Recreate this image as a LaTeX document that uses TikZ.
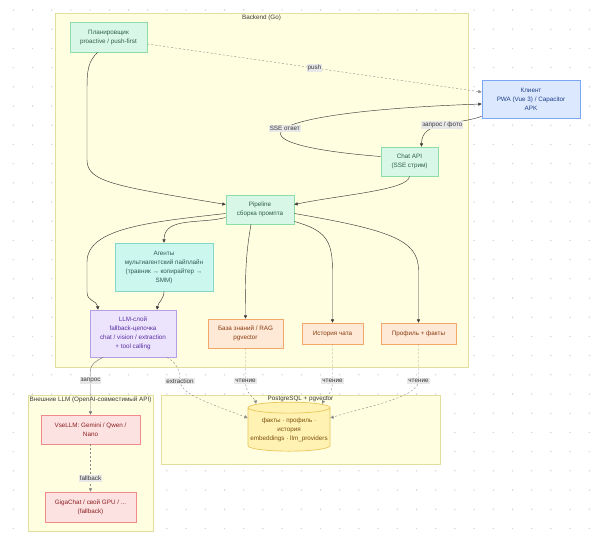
\documentclass[tikz,border=0pt]{standalone}
\usepackage{fontspec}
\setmainfont{Liberation Sans}
\usetikzlibrary{arrows.meta,shapes.geometric}
\definecolor{dotgray}{HTML}{D4D4D4}
\definecolor{clusfill}{HTML}{FFFEE0}
\definecolor{clusline}{HTML}{E2DE9C}
\definecolor{grnfill}{HTML}{D8F7E7}
\definecolor{grnline}{HTML}{8DDCA9}
\definecolor{grntext}{HTML}{2F5E44}
\definecolor{cyanfill}{HTML}{CCF7EF}
\definecolor{cyanline}{HTML}{84D6C9}
\definecolor{cyantext}{HTML}{2E5853}
\definecolor{bluefill}{HTML}{DCE8FD}
\definecolor{blueline}{HTML}{7BA6F5}
\definecolor{bluetext}{HTML}{1F3F8A}
\definecolor{purpfill}{HTML}{ECE4FD}
\definecolor{purpline}{HTML}{B49EE8}
\definecolor{purptext}{HTML}{5A2EA0}
\definecolor{orfill}{HTML}{FDE9D6}
\definecolor{orline}{HTML}{F3A76B}
\definecolor{ortext}{HTML}{8A3B12}
\definecolor{pinkfill}{HTML}{FDE2E2}
\definecolor{pinkline}{HTML}{F08A8A}
\definecolor{pinktext}{HTML}{8B1E1E}
\definecolor{dbfill}{HTML}{FFF2B3}
\definecolor{dbline}{HTML}{E8C65A}
\definecolor{dbtext}{HTML}{7A4F0F}
\definecolor{edgegray}{HTML}{3A3A3A}
\definecolor{dashgray}{HTML}{8A8A8A}
\definecolor{lblgray}{HTML}{E8E8E8}

\begin{document}
\begin{tikzpicture}[x=1pt, y=-1pt, >={Triangle[length=3.3pt,width=3.2pt]},
  font=\fontsize{6.3}{9}\selectfont,
  box/.style={draw, line width=0.7pt, align=center, inner sep=2pt},
  gnode/.style={box, fill=grnfill, draw=grnline, text=grntext},
  cnode/.style={box, fill=cyanfill, draw=cyanline, text=cyantext},
  bnode/.style={box, fill=bluefill, draw=blueline, text=bluetext},
  pnode/.style={box, fill=purpfill, draw=purpline, text=purptext},
  onode/.style={box, fill=orfill, draw=orline, text=ortext},
  rnode/.style={box, fill=pinkfill, draw=pinkline, text=pinktext},
  cluster/.style={fill=clusfill, draw=clusline, line width=0.6pt},
  clabel/.style={text=edgegray},
  flow/.style={->, draw=edgegray, line width=0.45pt},
  soft/.style={->, draw=dashgray, dash pattern=on 2pt off 2pt, line width=0.4pt},
  lbl/.style={fill=lblgray, text=edgegray, inner sep=1pt}]
  \useasboundingbox (0,0) rectangle (600,544);
  \fill[white] (0,0) rectangle (600,544);
  % dotted canvas
  \foreach \i in {0,...,30}
    \foreach \j in {0,...,27}
      \fill[dotgray] (13.3+19.2*\i,10+19.2*\j) circle (0.8pt);

  % groups
  \draw[cluster] (55,13) rectangle (468,367);
  \draw[cluster] (28,395) rectangle (153,531);
  \draw[cluster] (161,395) rectangle (440,464);
  \node[clabel] (tback) at (261.5,18) {Backend (Go)};
  \node[clabel] (text) at (90.5,400) {Внешние LLM (OpenAI-совместимый API)};
  \node[clabel] (tpg) at (300.5,399) {PostgreSQL + pgvector};

  % nodes
  \node[gnode, minimum width=77pt, minimum height=30pt] (sched) at (108.5,37) {Планировщик\\proactive / push-first};
  \node[bnode, minimum width=98pt, minimum height=38pt] (client) at (531,99) {Клиент\\PWA (Vue 3) / Capacitor\\APK};
  \node[gnode, minimum width=57pt, minimum height=29pt] (chatapi) at (409.5,161.5) {Chat API\\(SSE стрим)};
  \node[gnode, minimum width=68pt, minimum height=29pt] (pipe) at (260,209.5) {Pipeline\\сборка промпта};
  \node[cnode, minimum width=98pt, minimum height=48pt] (agents) at (164,267) {Агенты\\мультиагентский пайплайн\\(травник → копирайтер →\\SMM)};
  \node[pnode, minimum width=86pt, minimum height=47pt] (llm) at (133,333.5) {LLM-слой\\fallback-цепочка\\chat / vision / extraction\\+ tool calling};
  \node[onode, minimum width=75pt, minimum height=29pt] (kb) at (245.5,333.5) {База знаний / RAG\\pgvector};
  \node[onode, minimum width=61pt, minimum height=21pt] (hist) at (332.5,333.5) {История чата};
  \node[onode, minimum width=75pt, minimum height=21pt] (prof) at (418.5,333.5) {Профиль + факты};
  \node[rnode, minimum width=99pt, minimum height=29pt] (vse) at (90.5,429.5) {VseLLM: Gemini / Qwen /\\Nano};
  \node[rnode, minimum width=91pt, minimum height=30pt] (giga) at (90.5,507) {GigaChat / свой GPU / ...\\(fallback)};
  \node[cylinder, shape border rotate=90, aspect=0.14, draw=dbline, fill=dbfill, text=dbtext,
        line width=0.7pt, align=center, minimum width=82pt, minimum height=49pt, inner sep=0.5pt]
        (db) at (289,430) {факты · профиль ·\\история\\embeddings · llm\_providers};

  % connectors
  \draw[soft] ([yshift=-7pt]sched.east) -- node[lbl] (lpush) {push} ([yshift=7pt]client.west);
  \draw[flow] ([yshift=5pt]chatapi.west) .. controls (222,144) and (250,112) .. node[lbl, pos=0.5] (lsse) {SSE ответ} ([yshift=-5pt]client.west);
  \draw[flow] ([yshift=2pt]client.south west) to[out=-160,in=90] node[lbl] (lask) {запрос / фото} ([xshift=12pt]chatapi.north);
  \draw[flow] ([xshift=-11pt]sched.south) .. controls (88,62) and (87,70) .. (87,90) -- (87,160)
    .. controls (87,182) and (115,186) .. ([yshift=5pt]pipe.west);
  \draw[flow] (chatapi.south) .. controls (409,190) and (340,195) .. ([yshift=5pt]pipe.east);
  \draw[flow] ([yshift=-8pt]pipe.west) to[out=-165,in=90] (agents.north);
  \draw[flow] ([yshift=-4pt]pipe.west) .. controls (150,222) and (87,228) .. (87,262) -- (87,292)
    .. controls (87,302) and (97,300) .. ([xshift=-35pt]llm.north);
  \draw[flow] (agents.south) to[out=-90,in=80] ([xshift=24pt]llm.north);
  \draw[flow] ([xshift=-9pt]pipe.south) to[out=-100,in=90] (kb.north);
  \draw[flow] ([yshift=-12pt]pipe.east) .. controls (325,230) and (332.5,240) .. (332.5,270) -- (hist.north);
  \draw[flow] ([yshift=-4pt]pipe.east) .. controls (390,230) and (418.5,240) .. (418.5,270) -- (prof.north);
  \draw[flow, draw=dashgray!85!black] ([xshift=-30pt]llm.south) .. controls (96,361) and (90,364) .. (90.5,372)
    -- node[lbl, pos=0.2] (lreq) {запрос} (vse.north);
  \draw[soft] ([xshift=34pt]llm.south) .. controls (178,364) and (180,372) .. (180,381)
    node[lbl] (lext) {extraction} .. controls (180,395) and (215,405) .. ([yshift=12pt]db.west);
  \draw[soft] (kb.south) -- (245.5,381) node[lbl] (lrd1) {чтение}
    .. controls (245.5,395) and (255,398) .. ([xshift=-33pt,yshift=-2pt]db.north);
  \draw[soft] (hist.south) -- (332.5,381) node[lbl] (lrd2) {чтение}
    .. controls (332.5,395) and (325,398) .. ([xshift=33pt,yshift=-2pt]db.north);
  \draw[soft] (prof.south) -- (418.5,381) node[lbl] (lrd3) {чтение}
    .. controls (418.5,398) and (360,408) .. ([yshift=12pt]db.east);
  \draw[soft] (vse.south) -- node[lbl, pos=0.72] (lfb) {fallback} (giga.north);
\end{tikzpicture}
\end{document}
